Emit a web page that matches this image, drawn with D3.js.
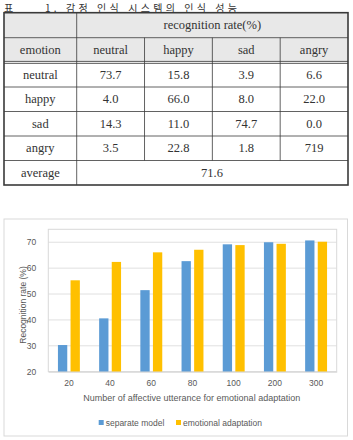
<!DOCTYPE html>
<html lang="ko">
<head>
<meta charset="UTF-8">
<title>recognition rate</title>
<script src="https://d3js.org/d3.v7.min.js"></script>
<style>
  body { margin: 0; background: #ffffff; }
  svg { display: block; }
</style>
</head>
<body>
<div id="my_dataviz"></div>
<script>

// table data
var captionLabel = "표";
var caption = "1. 감정 인식 시스템의 인식 성능";
var emotions = ["neutral", "happy", "sad", "angry"];
var rateNeutral = ["73.7", "15.8", "3.9", "6.6"];
var rateHappy   = ["4.0", "66.0", "8.0", "22.0"];
var rateSad     = ["14.3", "11.0", "74.7", "0.0"];
var rateAngry   = ["3.5", "22.8", "1.8", "719"];
var averageRate = "71.6";

// chart data
var utterances = ["20", "40", "60", "80", "100", "200", "300"];
var separateModel = [30.3, 40.6, 51.5, 62.7, 69.2, 70.0, 70.7];
var emotionalAdaptation = [55.3, 62.4, 66.1, 67.1, 68.9, 69.4, 70.2];
var yTicks = [20, 30, 40, 50, 60, 70];
var seriesNames = ["separate model", "emotional adaptation"];
var seriesColors = ["#5b9bd5", "#ffc000"];

var svg = d3.select("#my_dataviz")
  .append("svg")
  .attr("width", 353)
  .attr("height", 440);

// ---------- table ----------
var serif = "'Liberation Serif', 'DejaVu Serif', serif";
var cjk = "'Noto Sans CJK KR', sans-serif";

// caption above the table
svg.append("text")
  .attr("x", 4).attr("y", 11.6)
  .text(captionLabel)
  .style("font-family", cjk).style("font-size", "10px").style("fill", "#333");
svg.append("text")
  .attr("x", 45).attr("y", 11.6)
  .attr("textLength", 192).attr("lengthAdjust", "spacing")
  .text(caption)
  .style("font-family", cjk).style("font-size", "10px").style("fill", "#333");

// column and row edges
var colX = d3.scaleBand().domain(emotions).range([76.7, 348]);
var rowY = d3.scaleBand().domain(emotions.concat(["average"])).range([62.5, 185]);
var tLeft = 4, tRight = 348, tTop = 12.7, hMid = 37.7;

// header background
svg.append("rect")
  .attr("x", tLeft).attr("y", tTop)
  .attr("width", tRight - tLeft).attr("height", 62.5 - tTop)
  .style("fill", "#e8e8e8");

var lineCol = "#3a3a3a";
function hline(y, x1, x2, w) {
  svg.append("line").attr("x1", x1).attr("x2", x2).attr("y1", y).attr("y2", y)
    .attr("stroke", lineCol).attr("stroke-width", w || 0.8);
}
function vline(x, y1, y2, w) {
  svg.append("line").attr("x1", x).attr("x2", x).attr("y1", y1).attr("y2", y2)
    .attr("stroke", lineCol).attr("stroke-width", w || 0.8);
}

hline(hMid, tLeft, tRight);
hline(61.4, tLeft, tRight);
hline(63.4, tLeft, tRight);
emotions.slice(1).concat(["average"]).forEach(function(r) { hline(rowY(r), tLeft, tRight); });
vline(76.7, tTop, 185);
emotions.slice(1).forEach(function(c) { vline(colX(c), hMid, rowY("average")); });
// outer frame
svg.append("rect")
  .attr("x", tLeft).attr("y", tTop)
  .attr("width", tRight - tLeft).attr("height", 185 - tTop)
  .style("fill", "none").attr("stroke", lineCol).attr("stroke-width", 1.6);

function cell(txt, cx, cy) {
  svg.append("text")
    .attr("x", cx).attr("y", cy)
    .attr("text-anchor", "middle")
    .attr("dominant-baseline", "central")
    .text(txt)
    .style("font-family", serif)
    .style("font-size", "12.5px")
    .style("fill", "#333");
}

cell("recognition rate(%)", (76.7 + tRight) / 2, (tTop + hMid) / 2);
cell("emotion", (tLeft + 76.7) / 2, (hMid + 61.4) / 2);
emotions.forEach(function(c) { cell(c, colX(c) + colX.bandwidth() / 2, (hMid + 61.4) / 2); });

var rows = [rateNeutral, rateHappy, rateSad, rateAngry];
emotions.forEach(function(r, i) {
  var cy = rowY(r) + rowY.bandwidth() / 2;
  cell(r, (tLeft + 76.7) / 2, cy);
  rows[i].forEach(function(v, j) {
    cell(v, colX(emotions[j]) + colX.bandwidth() / 2, cy);
  });
});
cell("average", (tLeft + 76.7) / 2, rowY("average") + rowY.bandwidth() / 2);
cell(averageRate, 212, rowY("average") + rowY.bandwidth() / 2);

// ---------- bar chart ----------
var sans = "'Liberation Sans', Arial, sans-serif";
var grey = "#595959";

// chart frame
svg.append("rect")
  .attr("x", 4).attr("y", 219)
  .attr("width", 343.5).attr("height", 217)
  .style("fill", "#fff").attr("stroke", "#d9d9d9").attr("stroke-width", 1);

var x = d3.scaleBand().domain(utterances).range([48.3, 336.7]);
var xSub = d3.scaleBand().domain(seriesNames)
  .range([x.bandwidth() * 0.234, x.bandwidth() * 0.766])
  .paddingInner(0.26);
var y = d3.scaleLinear().domain([20, 75]).range([371.7, 229.3]);

// gridlines
svg.append("g")
  .selectAll("line")
  .data(yTicks)
  .enter().append("line")
  .attr("x1", 48.3).attr("x2", 336.7)
  .attr("y1", function(d) { return y(d); })
  .attr("y2", function(d) { return y(d); })
  .attr("stroke", "#e0e0e0").attr("stroke-width", 1);

// plot border
svg.append("rect")
  .attr("x", 48.3).attr("y", 229.3)
  .attr("width", 288.4).attr("height", 142.4)
  .style("fill", "none").attr("stroke", "#d9d9d9").attr("stroke-width", 1);

// y axis labels
var yAxis = svg.append("g")
  .attr("transform", "translate(48.3,0)")
  .call(d3.axisLeft(y).tickValues(yTicks).tickSize(0).tickPadding(12));
yAxis.select(".domain").remove();
yAxis.selectAll("text")
  .style("font-family", sans).style("font-size", "8.5px").style("fill", grey);

// bars
var series = [separateModel, emotionalAdaptation];
series.forEach(function(vals, s) {
  svg.append("g")
    .selectAll("rect")
    .data(vals)
    .enter().append("rect")
    .attr("x", function(d, i) { return x(utterances[i]) + xSub(seriesNames[s]); })
    .attr("width", xSub.bandwidth())
    .attr("y", function(d) { return y(d); })
    .attr("height", function(d) { return y(20) - y(d); })
    .style("fill", seriesColors[s]);
});

// x axis line + labels
var xAxis = svg.append("g")
  .attr("transform", "translate(0,371.7)")
  .call(d3.axisBottom(x).tickSize(0).tickPadding(8));
xAxis.select(".domain").attr("stroke", "#d9d9d9");
xAxis.selectAll("text")
  .style("font-family", sans).style("font-size", "8.5px").style("fill", grey);

// axis titles
svg.append("text")
  .attr("x", 191.7).attr("y", 400.5)
  .attr("text-anchor", "middle")
  .text("Number  of affective utterance for emotional adaptation")
  .style("font-family", sans).style("font-size", "9px").style("fill", grey);

svg.append("text")
  .attr("transform", "translate(26,305) rotate(-90)")
  .attr("text-anchor", "middle")
  .text("Recognition rate (%)")
  .style("font-family", sans).style("font-size", "8.5px").style("fill", grey);

// legend
var legendX = [98.7, 176];
seriesNames.forEach(function(name, s) {
  svg.append("rect")
    .attr("x", legendX[s]).attr("y", 420)
    .attr("width", 5).attr("height", 5)
    .style("fill", seriesColors[s]);
  svg.append("text")
    .attr("x", legendX[s] + 7).attr("y", 425.5)
    .text(name)
    .style("font-family", sans).style("font-size", "8.5px").style("fill", grey);
});

</script>
</body>
</html>
